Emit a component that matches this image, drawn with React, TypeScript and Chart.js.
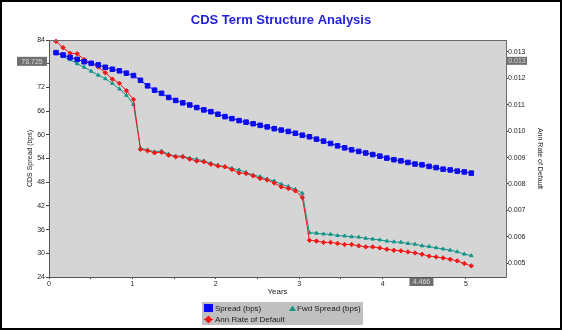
import React, { useEffect, useRef } from 'react';
import { Chart, registerables } from 'chart.js';

Chart.register(...registerables);

// Monthly points (years, act/360-style spacing)
const years = [
  0.084, 0.169, 0.253, 0.338, 0.422, 0.506, 0.591, 0.675, 0.760, 0.844, 0.928, 1.013,
  1.097, 1.182, 1.266, 1.350, 1.435, 1.519, 1.604, 1.688, 1.772, 1.857, 1.941, 2.026,
  2.110, 2.194, 2.279, 2.363, 2.448, 2.532, 2.616, 2.701, 2.785, 2.870, 2.954, 3.038,
  3.123, 3.207, 3.292, 3.376, 3.460, 3.545, 3.629, 3.714, 3.798, 3.882, 3.967, 4.051,
  4.136, 4.220, 4.304, 4.389, 4.473, 4.558, 4.642, 4.726, 4.811, 4.895, 4.980, 5.064,
];

const spreadBps = [
  80.8, 80.2, 79.6, 79.1, 78.5, 78.1, 77.7, 77.1, 76.6, 76.2, 75.6, 75.0,
  73.8, 72.4, 71.3, 70.5, 69.45, 68.7, 68.1, 67.55, 66.9, 66.3, 65.85, 65.2,
  64.6, 64.1, 63.6, 63.2, 62.8, 62.4, 62.0, 61.55, 61.2, 60.85, 60.4, 59.9,
  59.5, 58.9, 58.4, 57.8, 57.2, 56.7, 56.2, 55.8, 55.4, 55.0, 54.6, 54.1,
  53.7, 53.4, 53.0, 52.6, 52.4, 52.0, 51.7, 51.3, 51.1, 50.8, 50.6, 50.3,
];

const fwdSpreadBps = [
  80.8, 79.8, 79.0, 78.0, 77.1, 76.1, 75.1, 74.2, 73.0, 71.6, 70.0, 67.7,
  56.6, 56.2, 55.7, 55.9, 55.1, 54.6, 54.6, 54.1, 53.8, 53.4, 52.8, 52.3,
  51.9, 51.5, 51.1, 50.5, 49.8, 49.4, 48.8, 48.3, 47.5, 46.9, 46.2, 45.2,
  35.2, 35.1, 34.9, 34.8, 34.5, 34.4, 34.2, 34.1, 33.8, 33.6, 33.4, 33.1,
  32.9, 32.8, 32.5, 32.3, 31.9, 31.7, 31.4, 31.1, 30.8, 30.4, 29.8, 29.4,
];

const annRateOfDefault = [
  0.01340, 0.01316, 0.01295, 0.01293, 0.01271, 0.01257, 0.01243, 0.01221, 0.01197, 0.01181, 0.01153, 0.01120,
  0.00931, 0.00926, 0.00918, 0.00920, 0.00909, 0.00903, 0.00903, 0.00894, 0.00887, 0.00884, 0.00875, 0.00868,
  0.00865, 0.00855, 0.00842, 0.00840, 0.00831, 0.00821, 0.00815, 0.00804, 0.00789, 0.00783, 0.00774, 0.00749,
  0.00587, 0.00584, 0.00579, 0.00579, 0.00575, 0.00571, 0.00571, 0.00566, 0.00562, 0.00562, 0.00558, 0.00553,
  0.00549, 0.00547, 0.00543, 0.00539, 0.00534, 0.00527, 0.00524, 0.00520, 0.00515, 0.00509, 0.00499, 0.00490,
];

const xRange = [0, 5.48];
const xStep = 0.5;
const leftRange = [24, 84];
const leftStep = 6;
const rightRange = [0.00448, 0.01345];
const rightStep = 0.001;

const titleText = 'CDS Term Structure Analysis';
const xTitle = 'Years';
const leftTitle = 'CDS Spread (bps)';
const rightTitle = 'Ann Rate of Default';
const seriesLabels = ['Spread (bps)', 'Fwd Spread (bps)', 'Ann Rate of Default'];
const crosshairYears = 4.466;
const crosshairSpread = 78.725;

const FONT = '"Liberation Sans", Arial, Helvetica, sans-serif';
const BLUE = '#0a0af0';
const TEAL = '#12968a';
const RED = '#f01818';

function tag(ctx: CanvasRenderingContext2D, text: string, x: number, y: number, w: number, h: number) {
  ctx.fillStyle = '#6f6f6f';
  ctx.fillRect(x, y, w, h);
  ctx.fillStyle = '#dcdcdc';
  ctx.font = `7px ${FONT}`;
  ctx.textAlign = 'center';
  ctx.textBaseline = 'middle';
  ctx.fillText(text, x + w / 2, y + h / 2 + 0.5);
}

const decorPlugin = {
  id: 'decor',
  beforeDraw(chart: any) {
    const { ctx, chartArea: a, width, height } = chart;
    ctx.save();
    ctx.fillStyle = '#ffffff';
    ctx.fillRect(0, 0, width, height);
    ctx.fillStyle = '#d5d5d5';
    ctx.fillRect(a.left, a.top, a.right - a.left, a.bottom - a.top);
    ctx.restore();
  },
  afterDraw(chart: any) {
    const { ctx, chartArea: a, width, height } = chart;
    const sx = chart.scales.x;
    const sy = chart.scales.y;
    const sy1 = chart.scales.y1;
    ctx.save();

    // plot frame (top)
    ctx.strokeStyle = '#6a6a6a';
    ctx.lineWidth = 1;
    ctx.beginPath();
    ctx.moveTo(a.left, a.top + 0.5);
    ctx.lineTo(a.right + 0.5, a.top + 0.5);
    ctx.stroke();

    // title
    ctx.fillStyle = '#2222dd';
    ctx.font = `bold 13px ${FONT}`;
    ctx.textAlign = 'center';
    ctx.textBaseline = 'middle';
    ctx.fillText(titleText, width / 2, 20.5);

    // axis titles
    ctx.fillStyle = '#222';
    ctx.font = `8px ${FONT}`;
    ctx.fillText(xTitle, (a.left + a.right) / 2, 292);

    ctx.font = `7px ${FONT}`;
    ctx.save();
    ctx.translate(30, (a.top + a.bottom) / 2);
    ctx.rotate(-Math.PI / 2);
    ctx.fillText(leftTitle, 0, 0);
    ctx.restore();

    ctx.save();
    ctx.translate(540, (a.top + a.bottom) / 2);
    ctx.rotate(Math.PI / 2);
    ctx.fillText(rightTitle, 0, 0);
    ctx.restore();

    // crosshair tags
    const yPix = sy.getPixelForValue(crosshairSpread);
    const rVal = sy1.getValueForPixel(yPix);
    const xPix = sx.getPixelForValue(crosshairYears);
    tag(ctx, crosshairSpread.toFixed(3), 17, yPix - 4, 30, 9);
    tag(ctx, rVal.toFixed(3), a.right + 1, yPix - 4, 20, 8);
    tag(ctx, crosshairYears.toFixed(3), xPix - 12, a.bottom + 1, 24, 8);

    // legend
    ctx.fillStyle = '#c0c0c0';
    ctx.fillRect(202, 302, 161, 23);
    ctx.fillStyle = BLUE;
    ctx.fillRect(204, 304, 9, 8);
    ctx.fillStyle = TEAL;
    ctx.beginPath();
    ctx.moveTo(292.5, 305.5);
    ctx.lineTo(296, 311);
    ctx.lineTo(289, 311);
    ctx.closePath();
    ctx.fill();
    ctx.strokeStyle = RED;
    ctx.beginPath();
    ctx.moveTo(204, 319.5);
    ctx.lineTo(213, 319.5);
    ctx.stroke();
    ctx.fillStyle = RED;
    ctx.beginPath();
    ctx.moveTo(208.5, 315.5);
    ctx.lineTo(212.5, 319.5);
    ctx.lineTo(208.5, 323.5);
    ctx.lineTo(204.5, 319.5);
    ctx.closePath();
    ctx.fill();
    ctx.fillStyle = '#1a1a1a';
    ctx.font = `8px ${FONT}`;
    ctx.textAlign = 'left';
    ctx.textBaseline = 'middle';
    ctx.fillText(seriesLabels[0], 215, 308.5);
    ctx.fillText(seriesLabels[1], 297, 308.5);
    ctx.fillText(seriesLabels[2], 215, 319.5);

    // outer frame
    ctx.strokeStyle = '#000';
    ctx.lineWidth = 2;
    ctx.strokeRect(1, 1, width - 2, height - 2);
    ctx.restore();
  },
};

export default function App() {
  const ref = useRef<HTMLCanvasElement | null>(null);

  useEffect(() => {
    document.body.style.margin = '0';
    const canvas = ref.current;
    if (!canvas) return;
    const tickFont = { family: FONT, size: 7 };
    const chart = new Chart(canvas, {
      type: 'line',
      data: {
        datasets: [
          {
            label: seriesLabels[0],
            data: years.map((x, i) => ({ x, y: spreadBps[i] })),
            yAxisID: 'y',
            borderColor: BLUE,
            backgroundColor: BLUE,
            borderWidth: 1,
            pointStyle: 'rect',
            pointRadius: 3.2,
            pointBorderWidth: 1,
            tension: 0,
          },
          {
            label: seriesLabels[2],
            data: years.map((x, i) => ({ x, y: annRateOfDefault[i] })),
            yAxisID: 'y1',
            borderColor: RED,
            backgroundColor: RED,
            borderWidth: 1,
            pointStyle: 'rectRot',
            pointRadius: 2.2,
            pointBorderWidth: 1,
            tension: 0,
            clip: 4,
          },
          {
            label: seriesLabels[1],
            data: years.map((x, i) => ({ x, y: fwdSpreadBps[i] })),
            yAxisID: 'y',
            borderColor: TEAL,
            backgroundColor: TEAL,
            borderWidth: 1,
            pointStyle: 'triangle',
            pointRadius: 2.0,
            pointBorderWidth: 1,
            tension: 0,
          },
        ],
      },
      options: {
        animation: false,
        responsive: false,
        devicePixelRatio: 1,
        events: [],
        layout: { padding: { top: 40, left: 0, right: 0, bottom: 0 } },
        plugins: {
          legend: { display: false },
          title: { display: false },
          tooltip: { enabled: false },
        },
        scales: {
          x: {
            type: 'linear',
            min: xRange[0],
            max: xRange[1],
            afterFit: (s: any) => { s.height = 53; },
            ticks: {
              stepSize: xStep,
              includeBounds: false,
              autoSkip: false,
              maxRotation: 0,
              padding: 1,
              font: tickFont,
              color: '#222',
              callback: (v: any) => (Number.isInteger(Number(v)) ? String(v) : ''),
            },
            grid: { drawOnChartArea: false, drawTicks: true, tickLength: 2, color: '#444' },
            border: { color: '#555' },
          },
          y: {
            type: 'linear',
            position: 'left',
            min: leftRange[0],
            max: leftRange[1],
            afterFit: (s: any) => { s.width = 49; },
            ticks: { stepSize: leftStep, padding: 1, font: tickFont, color: '#222' },
            grid: { drawOnChartArea: false, drawTicks: true, tickLength: 3, color: '#444' },
            border: { color: '#555' },
          },
          y1: {
            type: 'linear',
            position: 'right',
            min: rightRange[0],
            max: rightRange[1],
            afterFit: (s: any) => { s.width = 56; },
            ticks: {
              stepSize: rightStep,
              includeBounds: false,
              padding: 0,
              font: tickFont,
              color: '#222',
              callback: (v: any) => Number(v).toFixed(3),
            },
            grid: { drawOnChartArea: false, drawTicks: true, tickLength: 2, color: '#444' },
            border: { color: '#6a6a6a' },
          },
        },
      },
      plugins: [decorPlugin],
    } as any);
    return () => chart.destroy();
  }, []);

  return (
    <div style={{ width: 562, height: 330 }}>
      <canvas ref={ref} width={562} height={330} style={{ display: 'block', width: 562, height: 330 }} />
    </div>
  );
}
